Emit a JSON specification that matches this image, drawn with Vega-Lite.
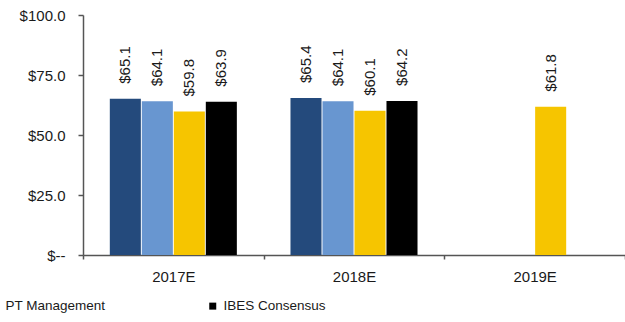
{
  "$schema": "https://vega.github.io/schema/vega-lite/v6.json",
  "width": 542,
  "height": 240,
  "autosize": {"type": "none"},
  "padding": {"left": 83, "top": 15, "right": 0, "bottom": 67},
  "background": "white",
  "config": {"font": "Liberation Sans", "view": {"stroke": null}},
  "data": {
    "values": [
      {"year": "2017E", "series": "Analyst Mean", "value": 65.1},
      {"year": "2017E", "series": "Analyst Median", "value": 64.1},
      {"year": "2017E", "series": "PT Management", "value": 59.8},
      {"year": "2017E", "series": "IBES Consensus", "value": 63.9},
      {"year": "2018E", "series": "Analyst Mean", "value": 65.4},
      {"year": "2018E", "series": "Analyst Median", "value": 64.1},
      {"year": "2018E", "series": "PT Management", "value": 60.1},
      {"year": "2018E", "series": "IBES Consensus", "value": 64.2},
      {"year": "2019E", "series": "PT Management", "value": 61.8}
    ]
  },
  "encoding": {
    "x": {
      "field": "year",
      "type": "nominal",
      "scale": {"paddingInner": 0, "paddingOuter": 0},
      "axis": {
        "title": null,
        "labelAngle": 0,
        "labelFontSize": 15,
        "labelColor": "#1a1a1a",
        "labelPadding": 10,
        "tickBand": "extent",
        "tickSize": 4,
        "tickColor": "#555555",
        "tickWidth": 1.5,
        "domainColor": "#555555",
        "domainWidth": 1.5
      }
    },
    "xOffset": {
      "field": "series",
      "type": "nominal",
      "sort": ["Analyst Mean", "Analyst Median", "PT Management", "IBES Consensus"],
      "scale": {"paddingInner": 0.03, "paddingOuter": 0.838}
    },
    "y": {
      "field": "value",
      "type": "quantitative",
      "scale": {"domain": [0, 100]},
      "axis": {
        "title": null,
        "values": [0, 25, 50, 75, 100],
        "grid": false,
        "labelExpr": "datum.value == 0 ? '$--' : '$' + format(datum.value, '.1f')",
        "labelFontSize": 15,
        "labelColor": "#1a1a1a",
        "labelPadding": 13,
        "tickSize": 5,
        "tickColor": "#555555",
        "tickWidth": 1.5,
        "domainColor": "#555555",
        "domainWidth": 1.5
      }
    }
  },
  "layer": [
    {
      "mark": {"type": "bar"},
      "encoding": {
        "color": {
          "field": "series",
          "type": "nominal",
          "scale": {
            "domain": ["Analyst Mean", "Analyst Median", "PT Management", "IBES Consensus"],
            "range": ["#244a7c", "#6896d0", "#f6c500", "#000000"]
          },
          "legend": {
            "title": null,
            "orient": "none",
            "legendX": -95,
            "legendY": 284,
            "direction": "horizontal",
            "values": ["PT Management", "IBES Consensus"],
            "symbolType": "square",
            "symbolSize": 49,
            "symbolStrokeWidth": 0,
            "labelFontSize": 13.5,
            "labelColor": "#1a1a1a",
            "labelOffset": 4,
            "columnPadding": 100,
            "padding": 0
          }
        }
      }
    },
    {
      "mark": {
        "type": "text",
        "angle": 270,
        "align": "left",
        "baseline": "middle",
        "dx": 15,
        "fontSize": 15,
        "color": "#1a1a1a"
      },
      "encoding": {
        "text": {"field": "value", "type": "quantitative", "format": "$.1f"}
      }
    }
  ]
}
